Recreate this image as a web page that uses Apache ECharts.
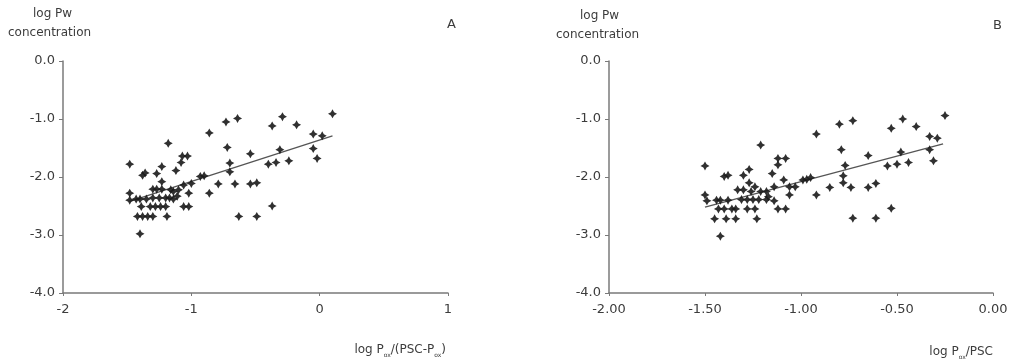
<!DOCTYPE html>
<html>
<head>
<meta charset="utf-8">
<script src="https://cdn.jsdelivr.net/npm/echarts@6/dist/echarts.min.js"></script>
<style>
  html, body { margin: 0; padding: 0; background: #fff; }
  #chart { width: 1012px; height: 364px; }
</style>
</head>
<body>
<div id="chart"></div>
<script>
// Panel A: log Pox/(PSC-Pox) vs log Pw concentration
const pointsA = [
  [-1.48,-1.78],[-1.18,-1.42],[-0.86,-1.24],[-0.73,-1.05],[-0.64,-0.99],
  [-0.37,-1.12],[-0.29,-0.96],[-0.18,-1.10],[-0.05,-1.26],[0.02,-1.29],
  [0.10,-0.91],[-0.72,-1.49],[-0.54,-1.60],[-0.31,-1.53],[-0.05,-1.51],
  [-0.40,-1.78],[-0.34,-1.75],[-0.24,-1.72],[-0.02,-1.68],[-1.07,-1.64],
  [-1.03,-1.64],[-1.08,-1.75],[-1.23,-1.82],[-1.27,-1.94],[-1.38,-1.97],
  [-1.36,-1.93],[-1.12,-1.89],[-0.70,-1.76],[-0.70,-1.91],[-0.93,-1.99],
  [-0.90,-1.98],[-1.23,-2.08],[-1.00,-2.11],[-1.06,-2.14],[-0.79,-2.12],
  [-0.66,-2.12],[-0.54,-2.12],[-0.49,-2.10],[-1.30,-2.21],[-1.27,-2.21],
  [-1.23,-2.21],[-1.16,-2.22],[-1.14,-2.25],[-1.10,-2.22],[-1.02,-2.28],
  [-0.86,-2.28],[-1.48,-2.28],[-1.48,-2.40],
  [-1.43,-2.38],[-1.40,-2.38],[-1.35,-2.38],[-1.30,-2.36],[-1.25,-2.36],
  [-1.20,-2.36],[-1.17,-2.36],[-1.14,-2.38],[-1.11,-2.33],
  [-1.39,-2.51],[-1.32,-2.51],[-1.28,-2.51],[-1.24,-2.51],[-1.20,-2.51],
  [-1.06,-2.51],[-1.02,-2.51],
  [-1.42,-2.68],[-1.38,-2.68],[-1.34,-2.68],[-1.30,-2.68],[-1.19,-2.68],
  [-0.63,-2.68],[-0.49,-2.68],[-0.37,-2.50],[-1.40,-2.98]
];
const fitA = [[-1.48,-2.42],[0.10,-1.29]];

// Panel B: log Pox/PSC vs log Pw concentration
const pointsB = [
  [-1.50,-1.81],[-1.50,-2.31],[-1.49,-2.41],[-1.40,-1.99],[-1.38,-1.97],
  [-1.30,-1.97],[-1.27,-1.87],[-1.21,-1.45],[-0.92,-1.26],[-1.12,-1.68],
  [-1.08,-1.68],[-1.12,-1.79],[-1.15,-1.94],[-1.27,-2.10],[-1.24,-2.17],
  [-1.09,-2.05],[-0.99,-2.05],[-0.97,-2.04],[-0.95,-2.01],[-1.14,-2.17],
  [-1.06,-2.17],[-1.03,-2.17],[-1.33,-2.22],[-1.30,-2.22],[-1.26,-2.25],
  [-1.21,-2.25],[-1.18,-2.25],[-1.06,-2.31],[-0.92,-2.31],[-1.17,-2.34],
  [-1.14,-2.41],
  [-1.44,-2.40],[-1.42,-2.40],[-1.38,-2.40],[-1.31,-2.39],[-1.28,-2.39],
  [-1.25,-2.39],[-1.22,-2.39],[-1.18,-2.39],
  [-1.43,-2.55],[-1.40,-2.55],[-1.36,-2.55],[-1.34,-2.55],[-1.28,-2.55],
  [-1.24,-2.55],[-1.12,-2.55],[-1.08,-2.55],
  [-1.45,-2.72],[-1.39,-2.72],[-1.34,-2.72],[-1.23,-2.72],[-1.42,-3.02],
  [-0.80,-1.09],[-0.73,-1.03],[-0.53,-1.16],[-0.47,-1.00],[-0.40,-1.13],
  [-0.25,-0.94],[-0.33,-1.30],[-0.29,-1.33],[-0.79,-1.53],[-0.65,-1.63],
  [-0.48,-1.57],[-0.33,-1.53],[-0.31,-1.72],[-0.77,-1.80],[-0.55,-1.81],
  [-0.50,-1.78],[-0.44,-1.75],[-0.78,-1.98],[-0.78,-2.10],[-0.85,-2.18],
  [-0.74,-2.18],[-0.65,-2.18],[-0.61,-2.11],[-0.53,-2.54],[-0.73,-2.71],
  [-0.61,-2.71]
];
const fitB = [[-1.50,-2.52],[-0.26,-1.43]];

const yTicks = { min: -4, max: 0, interval: 1 };
const xTicksA = { min: -2, max: 1, interval: 1 };
const xTicksB = { min: -2, max: 0, interval: 0.5 };

const FONT = 'DejaVu Sans';
const TEXT = '#3c3c3c';
const AXIS = '#7a7a7a';
const star = 'path://M0,-1 L0.36,-0.36 L1,0 L0.36,0.36 L0,1 L-0.36,0.36 L-1,0 L-0.36,-0.36 Z';

function xAxis(grid, t, digits) {
  return {
    type: 'value', gridIndex: grid, min: t.min, max: t.max, interval: t.interval,
    splitLine: { show: false },
    axisLine: { onZero: false, lineStyle: { color: AXIS, width: 1.5 } },
    axisTick: { show: true, length: 3, inside: false, lineStyle: { color: AXIS } },
    axisLabel: {
      margin: 10, color: TEXT, fontFamily: FONT, fontSize: 13,
      showMinLabel: true, showMaxLabel: true,
      formatter: v => v.toFixed(digits)
    }
  };
}
function yAxis(grid) {
  return {
    type: 'value', gridIndex: grid, min: yTicks.min, max: yTicks.max, interval: yTicks.interval,
    splitLine: { show: false },
    axisLine: { show: true, onZero: false, lineStyle: { color: AXIS, width: 1.5 } },
    axisTick: { show: true, length: 4, lineStyle: { color: AXIS } },
    axisLabel: {
      margin: 8, color: TEXT, fontFamily: FONT, fontSize: 13,
      formatter: v => v.toFixed(1)
    }
  };
}
function scatter(idx, data) {
  return {
    type: 'scatter', xAxisIndex: idx, yAxisIndex: idx, data: data,
    symbol: star, symbolSize: 9,
    itemStyle: { color: '#1a1a1a', opacity: 0.9 },
    silent: true, z: 3
  };
}
function fit(idx, data) {
  return {
    type: 'line', xAxisIndex: idx, yAxisIndex: idx, data: data,
    symbol: 'none', lineStyle: { color: '#555', width: 1.3 },
    silent: true, z: 2
  };
}
function txt(left, top, text, size, align) {
  return {
    type: 'text', left: left, top: top,
    style: { text: text, fill: TEXT, font: size + 'px "' + FONT + '"', textAlign: align || 'center' }
  };
}
function richTitle(right, top, parts) {
  return {
    type: 'text', right: right, top: top,
    style: {
      text: parts,
      rich: {
        a: { fontFamily: FONT, fontSize: 12, fill: TEXT, lineHeight: 16, verticalAlign: 'bottom' },
        s: { fontFamily: FONT, fontSize: 6, fill: TEXT, lineHeight: 10, verticalAlign: 'bottom', padding: [0, 0, -2, 0] }
      }
    }
  };
}

const chart = echarts.init(document.getElementById('chart'), null, { renderer: 'canvas' });
chart.setOption({
  animation: false,
  backgroundColor: '#fff',
  grid: [
    { left: 63, right: 564, top: 61, bottom: 71 },
    { left: 609, right: 19, top: 61, bottom: 71 }
  ],
  xAxis: [xAxis(0, xTicksA, 0), xAxis(1, xTicksB, 2)],
  yAxis: [yAxis(0), yAxis(1)],
  series: [scatter(0, pointsA), fit(0, fitA), scatter(1, pointsB), fit(1, fitB)],
  graphic: [
    txt(33, 8, 'log Pw', 12, 'left'),
    txt(8, 27, 'concentration', 12, 'left'),
    txt(580, 10, 'log Pw', 12, 'left'),
    txt(556, 29, 'concentration', 12, 'left'),
    txt(447, 18, 'A', 13, 'left'),
    txt(993, 19, 'B', 13, 'left'),
    richTitle(566, 344, '{a|log P}{s|ox}{a|/(PSC-P}{s|ox}{a|)}'),
    richTitle(19, 346, '{a|log P}{s|ox}{a|/PSC}')
  ]
});
</script>
</body>
</html>
